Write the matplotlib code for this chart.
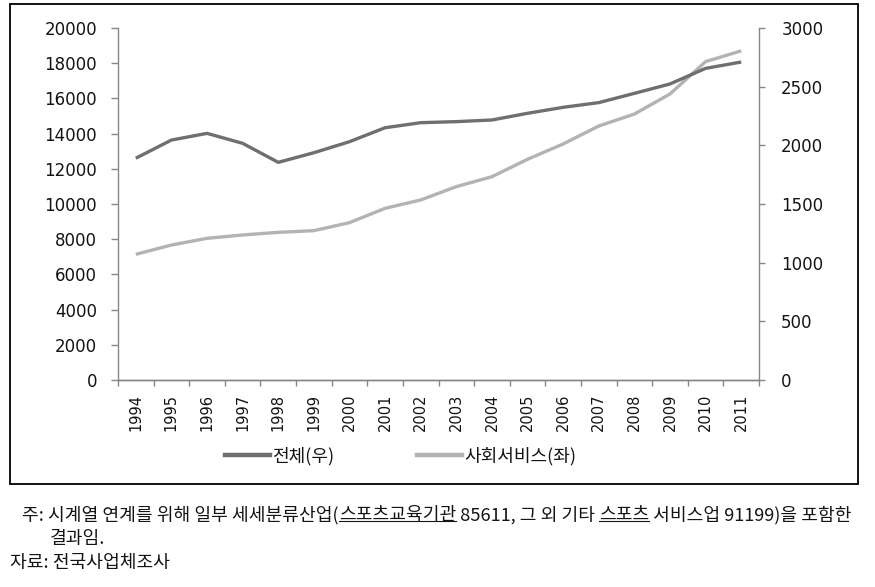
import numpy as np
import matplotlib
matplotlib.use("Agg")
import matplotlib.pyplot as plt
from matplotlib.lines import Line2D
from matplotlib.patches import Rectangle

plt.rcParams['font.family'] = ['DejaVu Sans', 'Noto Sans CJK KR']

# DATA
years = [str(y) for y in range(1994, 2012)]
# 전체 - right axis
total = [1890, 2045, 2102, 2017, 1855, 1937, 2031, 2150, 2193, 2202,
         2216, 2273, 2324, 2364, 2443, 2523, 2656, 2710]
# 사회서비스 - left axis
social = [7140, 7670, 8050, 8240, 8390, 8485, 8940, 9755, 10230, 10985,
          11550, 12540, 13410, 14430, 15110, 16250, 18090, 18700]

left_ticks = list(range(0, 20001, 2000))
right_ticks = list(range(0, 3001, 500))

W, H = 875, 587
dark = '#6f6f6f'
light = '#b3b3b3'
axis_gray = '#868686'
txt = '#141414'


def fx(px):
    return px / W


def fy(py):
    return 1 - py / H


fig = plt.figure(figsize=(W / 100, H / 100), dpi=100)

# outer frame
fig.add_artist(Rectangle((fx(10), fy(484)), fx(848), 480 / H,
                         transform=fig.transFigure, fill=False,
                         lw=1.3, ec='black'))

ax = fig.add_axes([fx(118), fy(380), fx(759 - 118), (380 - 28) / H])
ax2 = ax.twinx()

x = np.arange(len(years))
ax.plot(x, social, color=light, lw=2.4, solid_capstyle='butt')
ax2.plot(x, total, color=dark, lw=2.4, solid_capstyle='butt')

ax.set_xlim(-0.5, len(years) - 0.5)
ax.set_ylim(0, 20000)
ax2.set_ylim(0, 3000)
ax.set_yticks(left_ticks)
ax2.set_yticks(right_ticks)
ax.set_yticklabels([str(v) for v in left_ticks])
ax2.set_yticklabels([str(v) for v in right_ticks])

# category ticks between years, labels at the centres
ax.set_xticks(np.arange(-0.5, len(years), 1))
ax.set_xticklabels([])
ax.set_xticks(x, minor=True)
ax.set_xticklabels(years, minor=True, rotation=90, fontsize=10.5, color=txt)
ax.tick_params(axis='x', which='major', length=4, width=1, color=axis_gray)
ax.tick_params(axis='x', which='minor', length=0, pad=10)

ax.tick_params(axis='y', length=5, width=1, color=axis_gray, pad=10,
               labelsize=12, labelcolor=txt)
ax2.tick_params(axis='y', length=4, width=1, color=axis_gray, pad=12,
                labelsize=12, labelcolor=txt)

for a in (ax, ax2):
    a.spines['top'].set_visible(False)
    for s in ('left', 'right', 'bottom'):
        a.spines[s].set_color(axis_gray)
        a.spines[s].set_linewidth(1)
ax.spines['right'].set_visible(False)
ax2.spines['left'].set_visible(False)

# legend
handles = [Line2D([], [], color=dark, lw=3.2),
           Line2D([], [], color=light, lw=3.2)]
fig.legend(handles, ['전체(우)', '사회서비스(좌)'], loc='center left',
           bbox_to_anchor=(fx(225), fy(456)), ncol=2, frameon=False,
           prop={'family': 'Noto Sans CJK KR', 'size': 13},
           handlelength=2.5, handletextpad=0.1, columnspacing=4.6,
           borderaxespad=0, borderpad=0, labelcolor=txt)

# footnotes
note_font = {'family': 'Noto Sans CJK KR', 'size': 13.1, 'color': txt}
pieces = [("주: 시계열 연계를 위해 일부 세세분류산업(", False),
          ("스포츠교육기관", True),
          (" 85611, 그 외 기타 ", False),
          ("스포츠", True),
          (" 서비스업 91199)을 포함한", False)]

first = fig.text(fx(22), fy(515), pieces[0][0], va='center', ha='left',
                 **note_font)
under = []
for s, u in pieces[1:]:
    t = fig.text(0, 0, s, va='center', ha='left', **note_font)
    under.append((t, u))
fig.text(fx(50), fy(539), "결과임.", va='center', ha='left', **note_font)
fig.text(fx(10), fy(563), "자료: 전국사업체조사", va='center', ha='left',
         **note_font)

# lay the pieces of the first note line one after another
fig.canvas.draw()
r = fig.canvas.get_renderer()
bb = first.get_window_extent(r)
xpos = bb.x1
inv = fig.transFigure.inverted()
for t, u in under:
    t.set_position(inv.transform((xpos, bb.y0 + bb.height / 2)))
    tb = t.get_window_extent(r)
    xpos = xpos + tb.width
fig.canvas.draw()
for t, u in under:
    if u:
        tb = t.get_window_extent(r)
        p0 = inv.transform((tb.x0, tb.y0 + 3))
        p1 = inv.transform((tb.x1, tb.y0 + 3))
        fig.add_artist(Line2D([p0[0], p1[0]], [p0[1], p1[1]], color=txt,
                              lw=0.8, transform=fig.transFigure))

fig.savefig('out.png', dpi=100)
